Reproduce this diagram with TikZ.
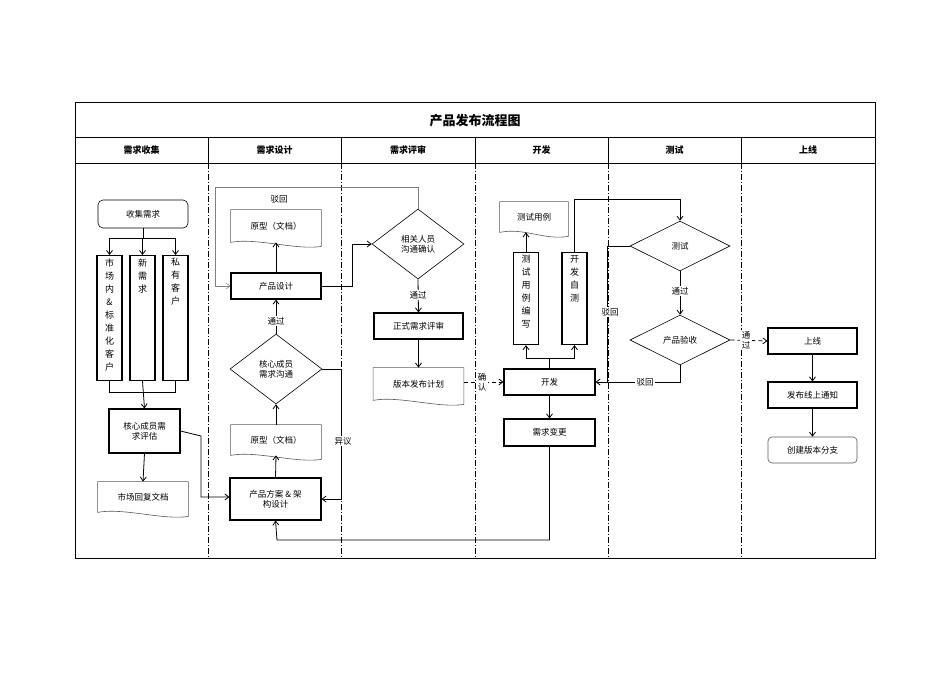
\documentclass[tikz,border=0pt]{standalone}
\usepackage{fontspec}
\setmainfont{Liberation Serif}
\newfontfamily\cjk{Noto Sans CJK SC}
\usetikzlibrary{shapes.geometric,arrows.meta}
\begin{document}
\begin{tikzpicture}[x=1pt,y=-1pt,font=\cjk\fontsize{8.5}{10}\selectfont,
  line width=0.8pt,
  box/.style={draw,line width=1.1pt,minimum width=#1,inner sep=1pt,align=center},
  box/.default=90pt,
  vbox/.style={draw,line width=1.1pt,minimum width=25pt,minimum height=#1,anchor=north,inner sep=0pt},
  vtxt/.style={anchor=north,text width=10pt,align=center,inner sep=3pt,font=\cjk\fontsize{9}{13}\selectfont},
  dia/.style={draw,diamond,minimum width=#1,inner sep=0pt,align=center,line width=0.6pt},
  doc/.style={minimum width=90pt,minimum height=30pt,inner sep=1pt,align=center},
  arr/.style={-{Straight Barb[length=4pt,width=6pt]}},
  lbl/.style={fill=white,inner sep=1.5pt,align=center},
  lane/.style={line width=0.5pt,dash pattern=on 6pt off 2pt on 1pt off 2pt}]
\newcommand\docshape[1]{\draw[gray!70!black,line width=0.6pt] (#1.north west) -- (#1.north east) -- ([yshift=-4pt]#1.south east) .. controls ([xshift=-25pt,yshift=-8pt]#1.south east) and ([xshift=25pt,yshift=5pt]#1.south west) .. ([yshift=0pt]#1.south west) -- cycle;}
\useasboundingbox (0,0) rectangle (950,672);
% frame
\draw[line width=0.6pt] (75,102) rectangle (875,558);
\draw[line width=0.6pt] (75,137) -- (875,137) (75,163) -- (875,163);
\node[font=\cjk\bfseries\fontsize{13}{15}\selectfont] (title) at (475,121) {产品发布流程图};
\foreach \x in {208,341,475,608,741}{\draw[line width=0.5pt] (\x,137)--(\x,163); \draw[lane] (\x,163)--(\x,558);}
\foreach \x/\t in {141.5/需求收集,274.5/需求设计,408/需求评审,541.5/开发,674.5/测试,808/上线}
  \node[font=\cjk\bfseries\fontsize{9}{10}\selectfont] (h\t) at (\x,150) {\t};
% lane 1
\node[draw,rounded corners=5pt,line width=0.6pt,minimum width=90pt,minimum height=28pt] (collect) at (143,214) {收集需求};
\node[vbox=125pt] (v1) at (109.5,255) {};
\node[vbox=125pt] (v2) at (142.5,255) {};
\node[vbox=125pt] (v3) at (175.5,255) {};
\node[vtxt] (t1) at (v1.north) {市\\场\\内\\\&\\标\\准\\化\\客\\户};
\node[vtxt] (t2) at (v2.north) {新\\需\\求};
\node[vtxt] (t3) at (v3.north) {私\\有\\客\\户};
\coordinate (c1) at (143,238);
\draw (collect.south) -- (c1);
\draw (v1.north |- c1) -- (v3.north |- c1);
\foreach \v in {v1,v2,v3}{\draw[arr] (\v.north |- c1) -- (\v.north);}
\node[box=71pt,minimum height=44pt] (eval) at (144.5,431) {核心成员需\\求评估};
\coordinate (c2) at (143,392);
\draw (v1.south) -- (v1.south |- c2) -- (v3.south |- c2) -- (v3.south);
\draw[arr] (v2.south) -- (eval.north);
\node[doc] (reply) at (143,497) {市场回复文档}; \docshape{reply}
\draw[arr] (eval.south) -- (reply.north);
% lane 2
\node[box=91pt,minimum height=42pt] (scheme) at (275.5,499) {产品方案 \& 架\\构设计};
\draw[arr] (eval.east) -- (201,436) -- (201,497) -- (scheme.west |- 0,497);
\node[doc] (proto2) at (276,440) {原型（文档）}; \docshape{proto2}
\draw[arr] (scheme.north) -- (proto2.south);
\node[dia=92pt,minimum height=70pt] (core) at (276,369) {核心成员\\需求沟通};
\draw[arr] (proto2.north) -- (core.south);
\node[box=90pt,minimum height=26pt] (pd) at (276,286) {产品设计};
\draw[arr] (core.north) -- (pd.south);
\node[lbl] (l1) at (276,321) {通过};
\node[doc,minimum height=32pt] (proto1) at (276,226) {原型（文档）}; \docshape{proto1}
\draw[arr] (pd.north) -- (proto1.south);
\node (l2) at (279,199) {驳回};
\draw[arr] (core.east) -- (341,369) -- (341,499) -- (scheme.east);
\node[lbl] (l3) at (343,441) {异议};
% lane 3
\node[dia=92pt,minimum height=70pt] (rel) at (418,244) {相关人员\\沟通确认};
\draw[arr,gray,line width=0.5pt] (rel.north) -- (418,187) -- (215,187) -- (215,286) -- (pd.west);
\draw[arr] (pd.east) -- (352,286) -- (352,244) -- (rel.west);
\node[box=89pt,minimum height=26pt] (formal) at (418.5,326) {正式需求评审};
\draw[arr] (rel.south) -- (formal.north);
\node[lbl] (l4) at (418,295) {通过};
\node[doc,minimum height=32pt] (plan) at (418.5,384) {版本发布计划}; \docshape{plan}
\draw[arr] (formal.south) -- (plan.north);
% lane 4
\node[box=91pt,minimum height=26pt] (dev) at (549.5,382) {开发};
\draw[arr,dash pattern=on 4pt off 3pt] (plan.east |- dev) -- (dev.west);
\node[lbl] (l5) at (482,382) {确\\认};
\node[box=91pt,minimum height=27pt] (chg) at (549.5,432.5) {需求变更};
\draw[arr] (dev.south) -- (chg.north);
\draw[arr] (chg.south) -- (549.5,540) -- (277,540) -- (scheme.south);
\node[vbox=92pt] (tc) at (526,252) {};
\node[vbox=92pt] (st) at (574.5,252) {};
\node[vtxt] (t4) at (tc.north) {测\\试\\用\\例\\编\\写};
\node[vtxt] (t5) at (st.north) {开\\发\\自\\测};
\draw (dev.north) -- (549.5,358);
\draw (tc.south |- 0,358) -- (st.south |- 0,358);
\draw[arr] (tc.south |- 0,358) -- (tc.south);
\draw[arr] (st.south |- 0,358) -- (st.south);
\node[doc,minimum width=68pt] (tcdoc) at (534,217) {测试用例}; \docshape{tcdoc}
\draw[arr] (tc.north) -- (tc.north |- tcdoc.south);
% lane 5
\node[dia=100pt,minimum height=50pt] (test) at (680,246) {测试};
\draw[arr] (st.north) -- (574.5,199) -- (680,199) -- (test.north);
\draw[arr] (test.west) -- (607,246) -- (607,382) -- (dev.east);
\node[lbl] (l6) at (610,312) {驳回};
\node[dia=100pt,minimum height=50pt] (acc) at (680,340) {产品验收};
\draw[arr] (test.south) -- (acc.north);
\node[lbl] (l7) at (680,291) {通过};
\draw (acc.south) -- (680,382) -- (607,382);
\node[lbl] (l8) at (645,382) {驳回};
% lane 6
\node[box=89pt,minimum height=26pt] (online) at (812.5,341) {上线};
\draw[arr,dash pattern=on 4pt off 3pt] (acc.east) -- (online.west);
\node[lbl] (l9) at (746,340) {通\\过};
\node[box=89pt,minimum height=26pt] (notice) at (812.5,395) {发布线上通知};
\draw[arr] (online.south) -- (notice.north);
\node[draw=gray!70!black,line width=0.6pt,rounded corners=4pt,minimum width=89pt,minimum height=26pt] (branch) at (812.5,450) {创建版本分支};
\draw[arr] (notice.south) -- (branch.north);
\end{tikzpicture}
\end{document}
